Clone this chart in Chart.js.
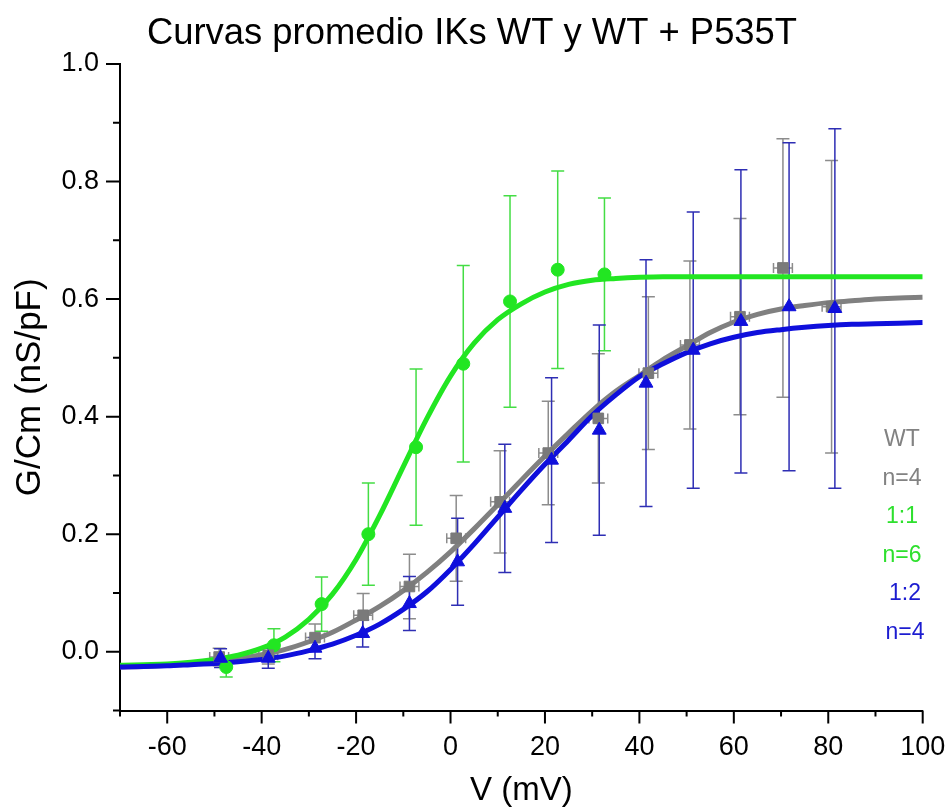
<!DOCTYPE html>
<html lang="es">
<head>
<meta charset="UTF-8">
<title>Curvas promedio IKs WT y WT + P535T</title>
<script src="https://cdn.jsdelivr.net/npm/chart.js"></script>
<style>
  html, body { margin: 0; padding: 0; background: #fff; }
</style>
</head>
<body>
<canvas id="gv" width="948" height="809"></canvas>
<script>
// Boltzmann fit curves, every 5 mV
const curveV = [-70, -65, -60, -55, -50, -45, -40, -35, -30, -25, -20, -15, -10, -5, 0, 5, 10, 15, 20, 25,
                30, 35, 40, 45, 50, 55, 60, 65, 70, 75, 80, 85, 90, 95, 100];
const fitWT = [-0.026, -0.025, -0.023, -0.021, -0.017, -0.012, -0.005, 0.004, 0.017, 0.033, 0.054, 0.077, 0.104,
               0.135, 0.170, 0.209, 0.250, 0.292, 0.333, 0.372, 0.410, 0.443, 0.470, 0.497, 0.520, 0.543, 0.561,
               0.574, 0.583, 0.589, 0.594, 0.597, 0.600, 0.602, 0.603];
const fit11 = [-0.023, -0.022, -0.021, -0.018, -0.013, -0.006, 0.006, 0.025, 0.055, 0.098, 0.157, 0.232, 0.315,
               0.397, 0.469, 0.525, 0.565, 0.592, 0.612, 0.625, 0.632, 0.635, 0.637, 0.638, 0.638, 0.638, 0.638,
               0.638, 0.638, 0.638, 0.638, 0.638, 0.638, 0.638, 0.638];
const fit12 = [-0.026, -0.025, -0.024, -0.022, -0.020, -0.017, -0.013, -0.007, 0.002, 0.013, 0.028, 0.047, 0.072,
               0.102, 0.140, 0.183, 0.229, 0.275, 0.319, 0.360, 0.402, 0.437, 0.468, 0.490, 0.509, 0.524, 0.535,
               0.543, 0.548, 0.552, 0.555, 0.557, 0.558, 0.559, 0.560];

// mean points with SEM
const wtV    = [-49.0, -38.6, -28.7, -18.5, -8.7, 1.2, 10.5, 20.7, 31.3, 41.9, 50.7, 61.3, 70.4, 80.7];
const wtG    = [-0.009, -0.006, 0.024, 0.062, 0.111, 0.193, 0.255, 0.338, 0.397, 0.474, 0.522, 0.570, 0.653, 0.587];
const wtErr  = [0.015, 0.015, 0.023, 0.037, 0.055, 0.073, 0.087, 0.088, 0.110, 0.130, 0.143, 0.167, 0.220, 0.249];
const wtVErr = [2.0, 2.0, 2.0, 2.0, 2.0, 2.0, 2.0, 2.0, 2.0, 2.0, 2.0, 2.0, 2.0, 2.0];

const r11V   = [-47.5, -37.4, -27.3, -17.4, -7.3, 2.7, 12.6, 22.7, 32.6];
const r11G   = [-0.026, 0.011, 0.081, 0.200, 0.348, 0.490, 0.596, 0.650, 0.642];
const r11Err = [0.017, 0.028, 0.046, 0.087, 0.133, 0.167, 0.180, 0.168, 0.130];

const r12V   = [-48.7, -38.6, -28.7, -18.6, -8.7, 1.5, 11.5, 21.4, 31.5, 41.4, 51.4, 61.5, 71.7, 81.4];
const r12G   = [-0.011, -0.011, 0.006, 0.031, 0.082, 0.153, 0.244, 0.326, 0.377, 0.457, 0.513, 0.562, 0.587, 0.584];
const r12Err = [0.016, 0.017, 0.018, 0.023, 0.046, 0.074, 0.109, 0.140, 0.179, 0.210, 0.235, 0.258, 0.279, 0.306];

const xTickAll = [-70, -60, -50, -40, -30, -20, -10, 0, 10, 20, 30, 40, 50, 60, 70, 80, 90, 100];
const xTickLab = [-60, -40, -20, 0, 20, 40, 60, 80, 100];
const yTickAll = [-0.1, 0, 0.1, 0.2, 0.3, 0.4, 0.5, 0.6, 0.7, 0.8, 0.9, 1.0];
const yTickLab = [0, 0.2, 0.4, 0.6, 0.8, 1.0];

const titleText = 'Curvas promedio IKs WT y WT + P535T';
const notes = ['WT', 'n=4', '1:1', 'n=6', '1:2', 'n=4'];
const noteColors = ['#828282', '#828282', '#2ee02e', '#2ee02e', '#1c1cd0', '#1c1cd0'];

const GRAY = '#808080', GREEN = '#22e622', BLUE = '#0f0fdc';
const FONT = '"Liberation Sans", Arial, sans-serif';

function pts(xs, ys) { return xs.map((v, i) => ({ x: v, y: ys[i] })); }

const errSets = [
  { v: wtV, g: wtG, e: wtErr, h: wtVErr, color: '#8c8c8c' },
  { v: r11V, g: r11G, e: r11Err, color: '#44dd44' },
  { v: r12V, g: r12G, e: r12Err, color: '#2e2eb4' }
];

const errorBars = {
  id: 'errorBars',
  beforeDatasetsDraw(chart) {
    const { ctx, scales: { x, y } } = chart;
    ctx.save();
    ctx.lineWidth = 1.5;
    errSets.forEach(s => {
      ctx.strokeStyle = s.color;
      s.v.forEach((v, i) => {
        const px = x.getPixelForValue(v);
        const py = y.getPixelForValue(s.g[i]);
        const t = y.getPixelForValue(s.g[i] + s.e[i]);
        const b = y.getPixelForValue(s.g[i] - s.e[i]);
        ctx.beginPath();
        ctx.moveTo(px, t); ctx.lineTo(px, b);
        ctx.moveTo(px - 6.5, t); ctx.lineTo(px + 6.5, t);
        ctx.moveTo(px - 6.5, b); ctx.lineTo(px + 6.5, b);
        if (s.h) {
          const l = x.getPixelForValue(v - s.h[i]);
          const r = x.getPixelForValue(v + s.h[i]);
          ctx.moveTo(l, py); ctx.lineTo(r, py);
          ctx.moveTo(l, py - 5); ctx.lineTo(l, py + 5);
          ctx.moveTo(r, py - 5); ctx.lineTo(r, py + 5);
        }
        ctx.stroke();
      });
    });
    ctx.restore();
  }
};

const tickMarks = {
  id: 'tickMarks',
  afterDraw(chart) {
    const { ctx, scales: { x, y }, chartArea: a } = chart;
    ctx.save();
    ctx.strokeStyle = '#000';
    ctx.lineWidth = 2;
    ctx.beginPath();
    xTickAll.forEach(v => {
      const px = x.getPixelForValue(v);
      const len = xTickLab.includes(v) ? 13 : 6;
      ctx.moveTo(px, a.bottom); ctx.lineTo(px, a.bottom + len);
    });
    yTickAll.forEach(v => {
      const py = y.getPixelForValue(v);
      const len = yTickLab.includes(v) ? 14 : 7;
      ctx.moveTo(a.left, py); ctx.lineTo(a.left - len, py);
    });
    ctx.stroke();
    ctx.restore();
  }
};

// title and the group labels on the right
const texts = {
  id: 'texts',
  afterDraw(chart) {
    const { ctx } = chart;
    ctx.save();
    ctx.textAlign = 'center';
    ctx.textBaseline = 'middle';
    ctx.fillStyle = '#000';
    ctx.font = '36.4px ' + FONT;
    ctx.fillText(titleText, 472, 33.6);
    ctx.font = '23px ' + FONT;
    notes.forEach((t, i) => {
      ctx.fillStyle = noteColors[i];
      ctx.fillText(t, i < 4 ? 902 : 905, 440 + i * 38.5);
    });
    ctx.restore();
  }
};

new Chart(document.getElementById('gv'), {
  type: 'scatter',
  data: {
    datasets: [
      { label: '1:2', data: pts(r12V, r12G), pointStyle: 'triangle', pointRadius: 8,
        backgroundColor: BLUE, borderColor: BLUE, borderWidth: 1 },
      { label: 'WT', data: pts(wtV, wtG), pointStyle: 'rect', pointRadius: 7.5,
        backgroundColor: '#7a7a7a', borderColor: '#7a7a7a', borderWidth: 1 },
      { label: '1:1', data: pts(r11V, r11G), pointStyle: 'circle', pointRadius: 6.5,
        backgroundColor: GREEN, borderColor: GREEN, borderWidth: 1 },
      { label: 'fit 1:2', data: pts(curveV, fit12), showLine: true, pointRadius: 0,
        borderColor: BLUE, borderWidth: 5, cubicInterpolationMode: 'monotone' },
      { label: 'fit 1:1', data: pts(curveV, fit11), showLine: true, pointRadius: 0,
        borderColor: GREEN, borderWidth: 5, cubicInterpolationMode: 'monotone' },
      { label: 'fit WT', data: pts(curveV, fitWT), showLine: true, pointRadius: 0,
        borderColor: GRAY, borderWidth: 5, cubicInterpolationMode: 'monotone' }
    ]
  },
  options: {
    responsive: false,
    animation: false,
    devicePixelRatio: 1,
    layout: { padding: { left: 0, right: 25.3, top: 64, bottom: 0 } },
    plugins: {
      legend: { display: false },
      tooltip: { enabled: false },
      title: { display: false }
    },
    scales: {
      x: {
        type: 'linear', min: -70, max: 100,
        afterFit(s) { s.height = 98.5; s.paddingLeft = 0; s.paddingRight = 0; },
        grid: { display: false, drawTicks: false },
        border: { display: true, color: '#000', width: 2 },
        ticks: {
          stepSize: 10, autoSkip: false, maxRotation: 0, padding: 21,
          color: '#000', font: { family: FONT, size: 27 },
          callback: v => xTickLab.includes(v) ? String(v) : ''
        },
        title: {
          display: true, text: 'V (mV)', color: '#000',
          font: { family: FONT, size: 33, lineHeight: 1.0 }, padding: { top: 0, bottom: 2 }
        }
      },
      y: {
        type: 'linear', min: -0.1, max: 1.0,
        afterFit(s) { s.width = 120; s.paddingTop = 0; s.paddingBottom = 0; },
        grid: { display: false, drawTicks: false },
        border: { display: true, color: '#000', width: 2 },
        ticks: {
          stepSize: 0.1, autoSkip: false, padding: 21,
          color: '#000', font: { family: FONT, size: 27 },
          callback: v => {
            const r = Math.round(v * 10) / 10;
            return yTickLab.includes(r) ? r.toFixed(1) : '';
          }
        },
        title: {
          display: true, text: 'G/Cm (nS/pF)', color: '#000',
          font: { family: FONT, size: 35 }, padding: { top: 9, bottom: 0 }
        }
      }
    }
  },
  plugins: [errorBars, tickMarks, texts]
});
</script>
</body>
</html>
